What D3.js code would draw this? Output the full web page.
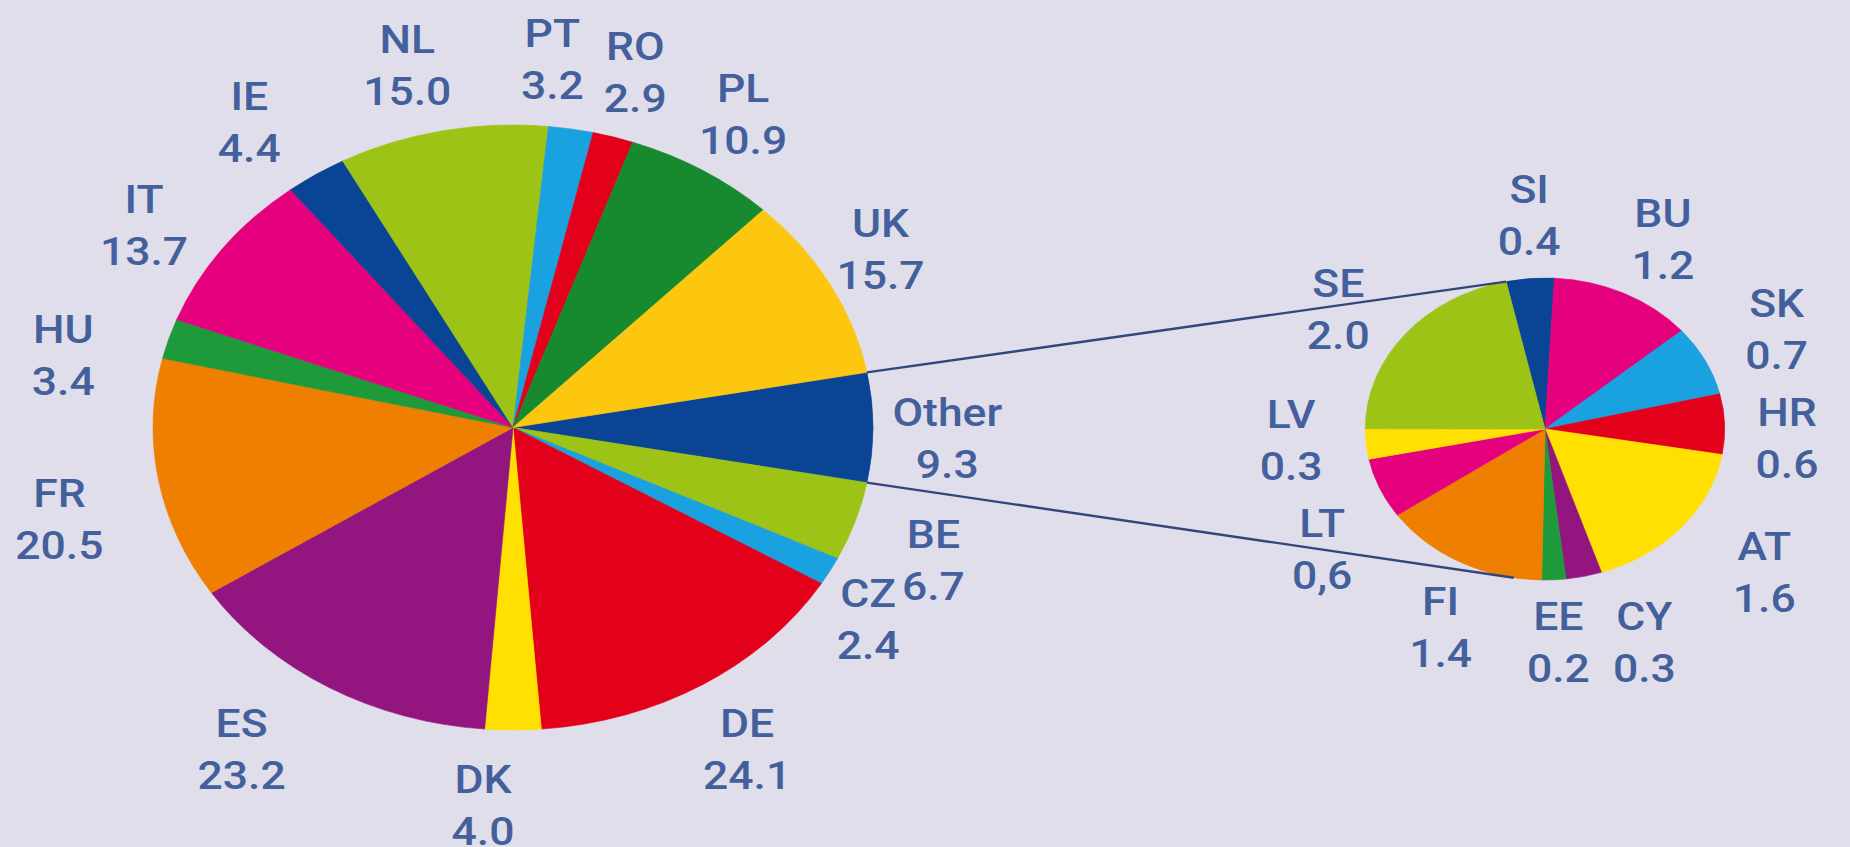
<!DOCTYPE html>
<html>
<head>
<meta charset="utf-8">
<script src="https://cdn.jsdelivr.net/npm/d3@7"></script>
<style>
  html, body { margin: 0; padding: 0; background: #dfdeea; overflow: hidden; }
  svg { display: block; }
  text { font-family: Roboto, "Liberation Sans", sans-serif; font-weight: 500; fill: #44609c; }
</style>
</head>
<body>
<svg id="chart" width="1850" height="847"></svg>
<script>
// ---- Data ----
const mainCodes  = ["Other", "BE", "CZ", "DE", "DK", "ES", "FR", "HU", "IT", "IE", "NL", "PT", "RO", "PL", "UK"];
const mainValues = [9.3, 6.7, 2.4, 24.1, 4.0, 23.2, 20.5, 3.4, 13.7, 4.4, 15.0, 3.2, 2.9, 10.9, 15.7];
const mainLabels = ["9.3", "6.7", "2.4", "24.1", "4.0", "23.2", "20.5", "3.4", "13.7", "4.4", "15.0", "3.2", "2.9", "10.9", "15.7"];

const otherCodes  = ["SI", "BU", "SK", "HR", "AT", "CY", "EE", "FI", "LT", "LV", "SE"];
const otherValues = [0.4, 1.2, 0.7, 0.6, 1.6, 0.3, 0.2, 1.4, 0.6, 0.3, 2.0];
const otherLabels = ["0.4", "1.2", "0.7", "0.6", "1.6", "0.3", "0.2", "1.4", "0,6", "0.3", "2.0"];

// ---- Styles / layout ----
const C = {
  navy: "#0a4595", lime: "#9cc315", sky: "#1aa1e0", red: "#e3001b", yellow: "#ffe000",
  purple: "#931580", orange: "#ef7f00", green: "#1e9a3a", magenta: "#e5007e",
  dkgreen: "#178a30", gold: "#fdc70f"
};
const mainColors = {
  Other: C.navy, BE: C.lime, CZ: C.sky, DE: C.red, DK: C.yellow, ES: C.purple, FR: C.orange,
  HU: C.green, IT: C.magenta, IE: C.navy, NL: C.lime, PT: C.sky, RO: C.red, PL: C.dkgreen, UK: C.gold
};
const otherColors = {
  SI: C.navy, BU: C.magenta, SK: C.sky, HR: C.red, AT: C.yellow, CY: C.purple,
  EE: C.green, FI: C.orange, LT: C.magenta, LV: C.yellow, SE: C.lime
};

const SX = 1.19;                 // horizontal stretch of the picture
const TSX = 1.14;                // horizontal stretch of the label text
const mainPie  = { cx: 513, cy: 427.5, r: 302.5, start: 79.5, labelGap: 70 };
const otherPie = { cx: 1545, cy: 429, r: 151, start: -12.5, labelGap: 60 };
const lowerConnectorAngle = 190; // where the lower connector meets the small pie (deg)

// label fine-tuning (px), relative to the radial anchor
const labelNudge = {
  Other: [-9, 10], BE: [-1, 17], CZ: [-35, 15], DE: [1, 5], DK: [-30, 5], ES: [-45, 1],
  FR: [-17, 27], HU: [-26, 37], IT: [-12, 18], IE: [-21, 6], NL: [-19, 3], PT: [-32, -1],
  RO: [-1, 2], PL: [-3, 3], UK: [-23, -2],
  SI: [5, -4], BU: [7, -1], SK: [8, -4], HR: [-9, 16], AT: [29, 5], CY: [45, 7],
  EE: [1, 2], FI: [14, 12], LT: [8, 37], LV: [-4, -10], SE: [-11, 12]
};

const FONT = 39, LINE_UP = 12, LINE_DOWN = 40;
const rad = d => d * Math.PI / 180;

const svg = d3.select("#chart");

function ellipsePoint(P, a, gap) {
  return [P.cx + (P.r + gap) * SX * Math.sin(a), P.cy - (P.r + gap) * Math.cos(a)];
}

function drawPie(P, codes, values, labels, colors) {
  const data = codes.map((c, i) => ({ code: c, value: values[i], label: labels[i] }));
  const pie = d3.pie().sort(null).value(d => d.value)
    .startAngle(rad(P.start)).endAngle(rad(P.start + 360));
  const arcs = pie(data);
  const arc = d3.arc().innerRadius(0).outerRadius(P.r);

  const g = svg.append("g").attr("transform", `translate(${P.cx},${P.cy}) scale(${SX},1)`);
  g.selectAll("path").data(arcs).join("path")
    .attr("d", arc)
    .attr("fill", d => colors[d.data.code])
    .attr("stroke", d => colors[d.data.code])
    .attr("stroke-width", 0.6);

  const lg = svg.append("g");
  arcs.forEach(d => {
    const mid = (d.startAngle + d.endAngle) / 2;
    const [bx, by] = ellipsePoint(P, mid, P.labelGap);
    const n = labelNudge[d.data.code] || [0, 0];
    const x = bx + n[0], y = by + n[1];
    const t = lg.append("g").attr("transform", `translate(${x},${y}) scale(${TSX},1)`);
    t.append("text").attr("text-anchor", "middle").attr("y", -LINE_UP)
      .attr("font-size", FONT).text(d.data.code);
    t.append("text").attr("text-anchor", "middle").attr("y", LINE_DOWN)
      .attr("font-size", FONT).text(d.data.label);
  });
  return arcs;
}

const mArcs = drawPie(mainPie, mainCodes, mainValues, mainLabels, mainColors);
const oArcs = drawPie(otherPie, otherCodes, otherValues, otherLabels, otherColors);

// connector lines
const otherSlice = mArcs.find(d => d.data.code === "Other");
const p1 = ellipsePoint(mainPie, otherSlice.startAngle, 0);
const p2 = ellipsePoint(mainPie, otherSlice.endAngle, 0);
const q1 = ellipsePoint(otherPie, oArcs[0].startAngle, 0);
const q2 = ellipsePoint(otherPie, rad(lowerConnectorAngle), 0);
svg.append("g").selectAll("line").data([[p1, q1], [p2, q2]]).join("line")
  .attr("x1", d => d[0][0]).attr("y1", d => d[0][1])
  .attr("x2", d => d[1][0]).attr("y2", d => d[1][1])
  .attr("stroke", "#34457c").attr("stroke-width", 2.4);
</script>
</body>
</html>
